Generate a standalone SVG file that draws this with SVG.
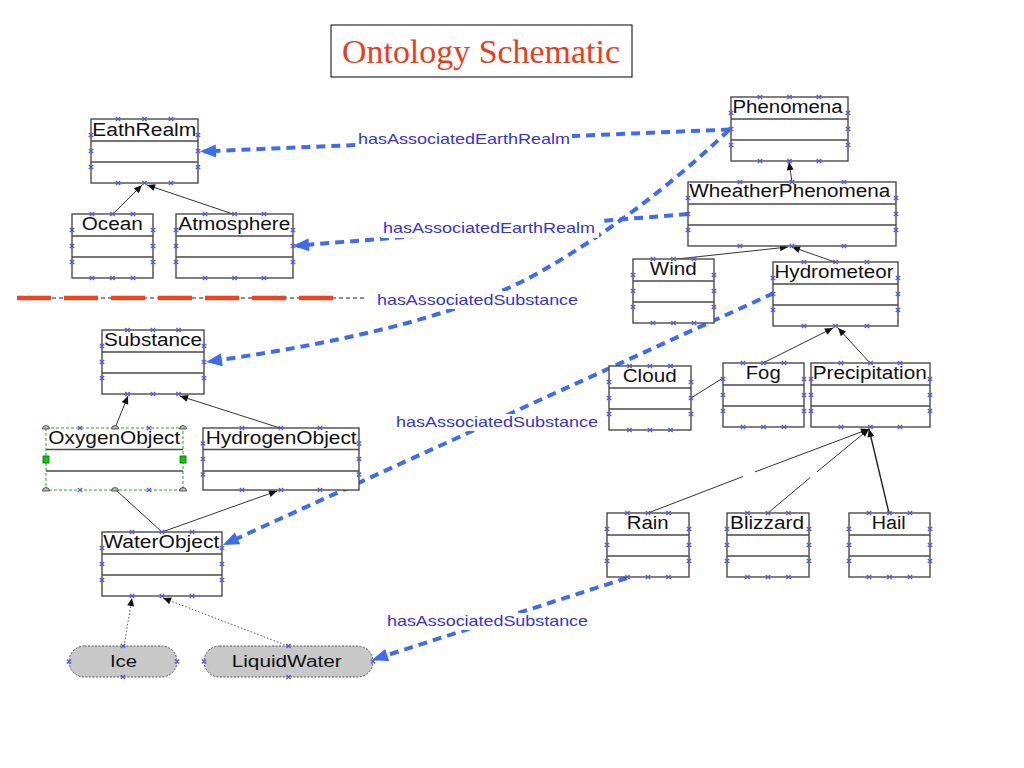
<svg xmlns="http://www.w3.org/2000/svg" width="1024" height="768" viewBox="0 0 1024 768">
<defs>
<style>
.bx{fill:#fff;stroke:#4a4a4a;stroke-width:1.4}
.dv{fill:none;stroke:#4a4a4a;stroke-width:1.4}
.nm{font-family:"Liberation Sans",Arial,sans-serif;font-size:18px;fill:#111}
.nm2{font-family:"Liberation Sans",Arial,sans-serif;font-size:16px;fill:#111}
.xs{fill:none;stroke:none;marker-start:url(#xm);marker-mid:url(#xm);marker-end:url(#xm)}
.gen{fill:none;stroke:#333;stroke-width:1;marker-end:url(#ah)}
.pl{fill:none;stroke:#333;stroke-width:1}
.dot{fill:none;stroke:#555;stroke-width:1;stroke-dasharray:1.5 2;marker-end:url(#ah)}
.rel{fill:none;stroke:#3b6cf2;stroke-width:4;stroke-dasharray:9 6;marker-end:url(#bh)}
.lbl{font-family:"Liberation Sans",Arial,sans-serif;font-size:15px;fill:#3232e6}
.lbg{fill:#fff}
.st{fill:#c8c8c8;stroke:#555;stroke-width:1;stroke-dasharray:2 1.5}
.hd{fill:#bbb;stroke:#333;stroke-width:0.8}
.gs{fill:#00d000;stroke:#060;stroke-width:0.8}
</style>
<marker id="xm" markerUnits="userSpaceOnUse" markerWidth="6" markerHeight="6" refX="3" refY="3" orient="0" overflow="visible"><path d="M0.8,1L5.2,5M0.8,5L5.2,1" stroke="#5656e6" stroke-width="1.2" fill="none"/></marker>
<marker id="ah" markerUnits="userSpaceOnUse" markerWidth="9" markerHeight="8" refX="8" refY="4" orient="auto" overflow="visible"><path d="M0,0.5L8,4L0,7.5z" fill="#111"/></marker>
<marker id="bh" markerUnits="userSpaceOnUse" markerWidth="18" markerHeight="14" refX="12" refY="6.5" orient="auto" overflow="visible"><path d="M0,0L16,6.5L0,13z" fill="#3b6cf2"/></marker>
</defs>
<rect width="1024" height="768" fill="#fff"/>

<g id="title"><rect x="331" y="25" width="301" height="52" fill="#fff" stroke="#000" stroke-width="1"/><text x="342" y="63" font-family="'Liberation Serif','Times New Roman',serif" font-size="33" fill="#ee3b1c" textLength="278" lengthAdjust="spacingAndGlyphs">Ontology Schematic</text></g>

<g id="separator"><line x1="17" y1="298" x2="365" y2="298" stroke="#222" stroke-width="1" stroke-dasharray="4 3"/><line x1="17" y1="298" x2="333" y2="298" stroke="#f5421b" stroke-width="4.5" stroke-dasharray="34 13"/></g>

<g id="connectors">
<path class="gen" d="M113,214L142,185"/>
<path class="gen" d="M233,214L147,185"/>
<path class="gen" d="M115,428L128,396"/>
<path class="gen" d="M280,428L180,396"/>
<path class="pl" d="M162,532L117,491"/>
<path class="gen" d="M162,532L277,491"/>
<path class="dot" d="M124,646L132,598"/>
<path class="dot" d="M288,646L163,598"/>
<path class="gen" d="M792,182L789,162"/>
<path class="gen" d="M677,259L788,247"/>
<path class="gen" d="M835,262L792,247"/>
<path class="gen" d="M763,363L833,328"/>
<path class="gen" d="M870,363L838,328"/>
<path class="pl" d="M691,398L723,378"/>
<path class="gen" d="M648,513L743,476.5M755,471.9L869,429"/>
<path class="gen" d="M768,513L810,477.7M817,471.8L869,429"/>
<path class="gen" style="stroke:#222;stroke-width:1.4" d="M889,513L869,429"/>
<path class="rel" d="M730,129.5L204,151.4"/>
<path class="rel" d="M688,214L297,245.7"/>
<path class="rel" d="M729,130Q640,215 540,272T210,361.4"/>
<path class="rel" d="M774,293L226.6,543.3"/>
<path class="rel" d="M627,578L375.8,658.8"/>
<rect class="lbg" x="356" y="131" width="216" height="17"/>
<text class="lbl" x="358" y="144" textLength="212" lengthAdjust="spacingAndGlyphs">hasAssociatedEarthRealm</text>
<rect class="lbg" x="381" y="219" width="218" height="19"/>
<text class="lbl" x="383" y="233" textLength="212" lengthAdjust="spacingAndGlyphs">hasAssociatedEarthRealm</text>
<rect class="lbg" x="375" y="291" width="205" height="18"/>
<text class="lbl" x="377" y="305" textLength="201" lengthAdjust="spacingAndGlyphs">hasAssociatedSubstance</text>
<rect class="lbg" x="394" y="414" width="206" height="17"/>
<text class="lbl" x="396" y="427" textLength="202" lengthAdjust="spacingAndGlyphs">hasAssociatedSubstance</text>
<rect class="lbg" x="385" y="613" width="205" height="17"/>
<text class="lbl" x="387" y="626" textLength="201" lengthAdjust="spacingAndGlyphs">hasAssociatedSubstance</text>
</g>

<g id="n-EathRealm" transform="translate(91,119)"><rect class="bx" width="107" height="64"/><path class="dv" d="M0,22H107M0,43H107"/><text class="nm" x="1.3" y="16.5" textLength="104" lengthAdjust="spacingAndGlyphs">EathRealm</text><polyline class="xs" points="27,0 53.5,0 80,0 107,16 107,32 107,48 80,64 53.5,64 27,64 0,48 0,32 0,16"/></g>
<g id="n-Ocean" transform="translate(72,214)"><rect class="bx" width="81" height="64"/><path class="dv" d="M0,22H81M0,43H81"/><text class="nm" x="9.7" y="16" textLength="61" lengthAdjust="spacingAndGlyphs">Ocean</text><polyline class="xs" points="20,0 40.5,0 61,0 81,16 81,32 81,48 61,64 40.5,64 20,64 0,48 0,32 0,16"/></g>
<g id="n-Atmosphere" transform="translate(176,214)"><rect class="bx" width="117" height="64"/><path class="dv" d="M0,22H117M0,43H117"/><text class="nm" x="2.3" y="16" textLength="112" lengthAdjust="spacingAndGlyphs">Atmosphere</text><polyline class="xs" points="29,0 58.5,0 88,0 117,16 117,32 117,48 88,64 58.5,64 29,64 0,48 0,32 0,16"/></g>
<g id="n-Substance" transform="translate(102,330)"><rect class="bx" width="102" height="64"/><path class="dv" d="M0,22H102M0,43H102"/><text class="nm" x="2" y="16" textLength="98" lengthAdjust="spacingAndGlyphs">Substance</text><polyline class="xs" points="25.5,0 51,0 76.5,0 102,16 102,32 102,48 76.5,64 51,64 25.5,64 0,48 0,32 0,16"/></g>
<g id="n-OxygenObject" transform="translate(46,428)"><rect width="137" height="62" fill="#fff" stroke="#2e9e2e" stroke-width="1" stroke-dasharray="3 2"/><path class="dv" d="M0,21.5H137M0,43H137"/><text class="nm" x="2.3" y="15.5" textLength="132" lengthAdjust="spacingAndGlyphs">OxygenObject</text><polyline class="xs" points="34,0 103,0 103,62 34,62"/><path class="hd" d="M-3.5,1a3.5,3.5 0 0 1 7,0zM65.5,1a3.5,3.5 0 0 1 7,0zM133.5,1a3.5,3.5 0 0 1 7,0zM-3.5,63a3.5,3.5 0 0 1 7,0zM65.5,63a3.5,3.5 0 0 1 7,0zM133.5,63a3.5,3.5 0 0 1 7,0z"/><rect class="gs" x="-3" y="28" width="6" height="7"/><rect class="gs" x="134" y="28" width="6" height="7"/></g>
<g id="n-HydrogenObject" transform="translate(203,428)"><rect class="bx" width="156" height="62"/><path class="dv" d="M0,21.5H156M0,43H156"/><text class="nm" x="2.7" y="15.5" textLength="151" lengthAdjust="spacingAndGlyphs">HydrogenObject</text><polyline class="xs" points="39,0 78,0 117,0 156,15.5 156,31 156,46.5 117,62 78,62 39,62 0,46.5 0,31 0,15.5"/></g>
<g id="n-WaterObject" transform="translate(102,532)"><rect class="bx" width="120" height="64"/><path class="dv" d="M0,22H120M0,43H120"/><text class="nm" x="1.3" y="15.5" textLength="116" lengthAdjust="spacingAndGlyphs">WaterObject</text><polyline class="xs" points="30,0 60,0 90,0 120,16 120,32 120,48 90,64 60,64 30,64 0,48 0,32 0,16"/></g>
<g id="n-Ice" transform="translate(69,646)"><rect class="st" width="108" height="31" rx="15.5"/><text class="nm2" x="41" y="20.7" textLength="27" lengthAdjust="spacingAndGlyphs">Ice</text><polyline class="xs" points="54,0 108,15.5 54,31 0,15.5"/></g>
<g id="n-LiquidWater" transform="translate(204,646)"><rect class="st" width="169" height="31" rx="15.5"/><text class="nm2" x="27.7" y="20.7" textLength="110" lengthAdjust="spacingAndGlyphs">LiquidWater</text><polyline class="xs" points="84.5,0 169,15.5 84.5,31 0,15.5"/></g>
<g id="n-Phenomena" transform="translate(731,97)"><rect class="bx" width="117" height="64"/><path class="dv" d="M0,22H117M0,43H117"/><text class="nm" x="1.5" y="16" textLength="110" lengthAdjust="spacingAndGlyphs">Phenomena</text><polyline class="xs" points="29,0 58.5,0 88,0 117,16 117,32 117,48 88,64 58.5,64 29,64 0,48 0,32 0,16"/></g>
<g id="n-WheatherPhenomena" transform="translate(688,182)"><rect class="bx" width="208" height="64"/><path class="dv" d="M0,22H208M0,43H208"/><text class="nm" x="1.3" y="15" textLength="201" lengthAdjust="spacingAndGlyphs">WheatherPhenomena</text><polyline class="xs" points="52,0 104,0 156,0 208,16 208,32 208,48 156,64 104,64 52,64 0,48 0,32 0,16"/></g>
<g id="n-Wind" transform="translate(633,259)"><rect class="bx" width="81" height="64"/><path class="dv" d="M0,22H81M0,43H81"/><text class="nm" x="16.7" y="15.5" textLength="47" lengthAdjust="spacingAndGlyphs">Wind</text><polyline class="xs" points="20,0 40.5,0 61,0 81,16 81,32 81,48 61,64 40.5,64 20,64 0,48 0,32 0,16"/></g>
<g id="n-Hydrometeor" transform="translate(773,262)"><rect class="bx" width="125" height="64"/><path class="dv" d="M0,22H125M0,43H125"/><text class="nm" x="1.5" y="15.5" textLength="119" lengthAdjust="spacingAndGlyphs">Hydrometeor</text><polyline class="xs" points="31,0 62.5,0 94,0 125,16 125,32 125,48 94,64 62.5,64 31,64 0,48 0,32 0,16"/></g>
<g id="n-Cloud" transform="translate(609,366)"><rect class="bx" width="82" height="64"/><path class="dv" d="M0,22H82M0,43H82"/><text class="nm" x="13.7" y="16" textLength="54" lengthAdjust="spacingAndGlyphs">Cloud</text><polyline class="xs" points="20.5,0 41,0 61.5,0 82,16 82,32 82,48 61.5,64 41,64 20.5,64 0,48 0,32 0,16"/></g>
<g id="n-Fog" transform="translate(723,363)"><rect class="bx" width="81" height="64"/><path class="dv" d="M0,22H81M0,43H81"/><text class="nm" x="22.7" y="16" textLength="35" lengthAdjust="spacingAndGlyphs">Fog</text><polyline class="xs" points="20,0 40.5,0 61,0 81,16 81,32 81,48 61,64 40.5,64 20,64 0,48 0,32 0,16"/></g>
<g id="n-Precipitation" transform="translate(811,363)"><rect class="bx" width="119" height="64"/><path class="dv" d="M0,22H119M0,43H119"/><text class="nm" x="1.7" y="16" textLength="114" lengthAdjust="spacingAndGlyphs">Precipitation</text><polyline class="xs" points="30,0 59.5,0 89,0 119,16 119,32 119,48 89,64 59.5,64 30,64 0,48 0,32 0,16"/></g>
<g id="n-Rain" transform="translate(607,513)"><rect class="bx" width="82" height="64"/><path class="dv" d="M0,22H82M0,43H82"/><text class="nm" x="19.7" y="15.5" textLength="42" lengthAdjust="spacingAndGlyphs">Rain</text><polyline class="xs" points="20.5,0 41,0 61.5,0 82,16 82,32 82,48 61.5,64 41,64 20.5,64 0,48 0,32 0,16"/></g>
<g id="n-Blizzard" transform="translate(727,513)"><rect class="bx" width="82" height="64"/><path class="dv" d="M0,22H82M0,43H82"/><text class="nm" x="3" y="15.5" textLength="74" lengthAdjust="spacingAndGlyphs">Blizzard</text><polyline class="xs" points="20.5,0 41,0 61.5,0 82,16 82,32 82,48 61.5,64 41,64 20.5,64 0,48 0,32 0,16"/></g>
<g id="n-Hail" transform="translate(849,513)"><rect class="bx" width="81" height="64"/><path class="dv" d="M0,22H81M0,43H81"/><text class="nm" x="22.7" y="15.5" textLength="34" lengthAdjust="spacingAndGlyphs">Hail</text><polyline class="xs" points="20,0 40.5,0 61,0 81,16 81,32 81,48 61,64 40.5,64 20,64 0,48 0,32 0,16"/></g>
</svg>
